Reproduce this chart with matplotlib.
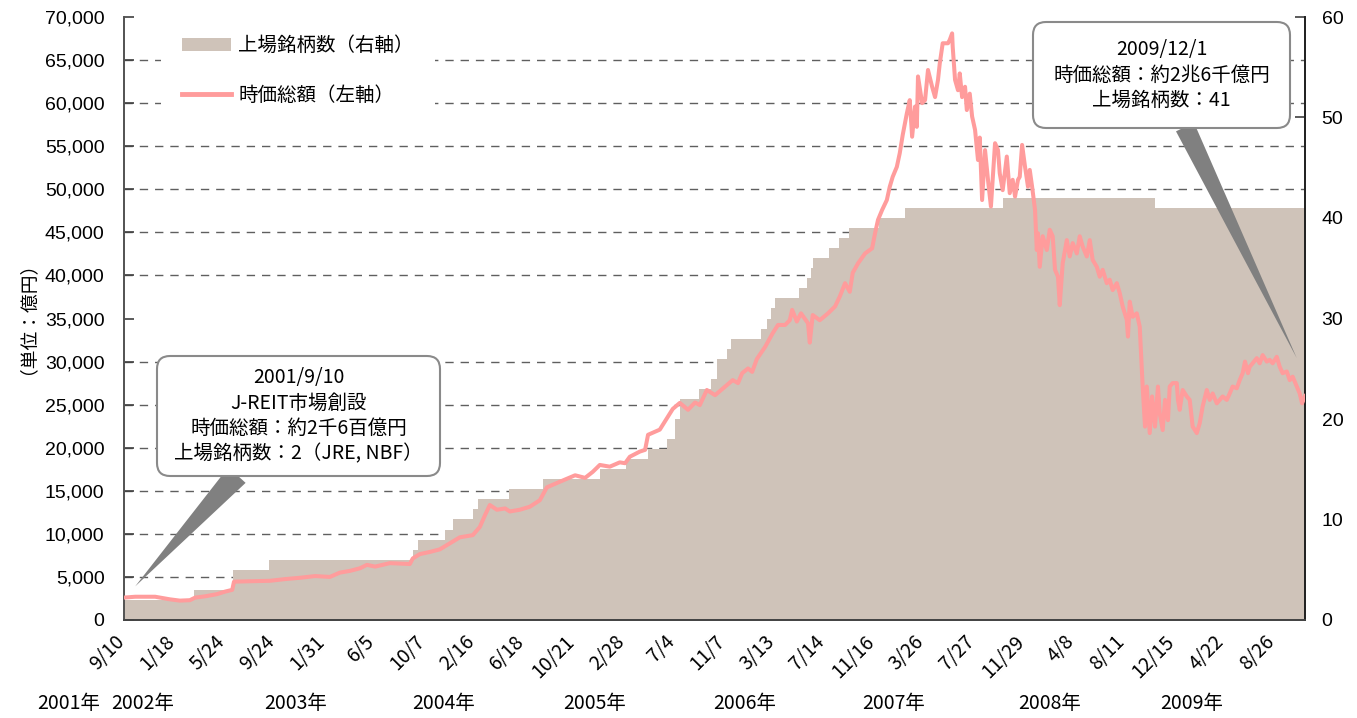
import numpy as np
import matplotlib.pyplot as plt
from matplotlib.patches import Patch, FancyBboxPatch
from matplotlib.lines import Line2D
from matplotlib.ticker import FuncFormatter, FixedLocator
from matplotlib.transforms import ScaledTranslation

plt.rcParams['font.family'] = ['Noto Sans CJK JP', 'DejaVu Sans']

# 営業日インデックス（2001/9/10 = 0）と時価総額（億円）
cap_day = [0, 19, 53, 66, 78, 95, 112, 121, 138, 158, 172, 184, 187, 214, 248, 274, 299, 325,
           350, 367, 384, 401, 413, 427, 452, 486, 491, 503, 520, 537, 554, 571, 593, 605, 614,
           622, 634, 648, 656, 673, 690, 707, 719, 741, 767, 784, 797, 809, 826, 843, 852, 860,
           877, 886, 891, 911, 923, 933, 945, 959, 971, 979, 991, 1005, 1022, 1035, 1044, 1051,
           1061, 1068, 1076, 1090, 1103, 1112, 1124, 1132, 1136, 1144, 1151, 1163, 1166, 1171,
           1183, 1197, 1209, 1217, 1226, 1234, 1239, 1248, 1260, 1272, 1277, 1282, 1289, 1297,
           1302, 1307, 1314, 1319, 1324, 1331, 1336, 1340, 1345, 1348, 1350, 1357, 1362, 1367,
           1374, 1379, 1384, 1387, 1392, 1401, 1404, 1408, 1409, 1413, 1418, 1421, 1425, 1430,
           1433, 1438, 1442, 1447, 1452, 1455, 1459, 1464, 1469, 1474, 1481, 1486, 1489, 1494,
           1501, 1506, 1511, 1515, 1520, 1523, 1527, 1532, 1537, 1540, 1544, 1549, 1552, 1554,
           1557, 1562, 1569, 1574, 1579, 1583, 1588, 1591, 1596, 1603, 1608, 1613, 1620, 1625,
           1630, 1637, 1642, 1647, 1654, 1659, 1664, 1671, 1676, 1681, 1688, 1693, 1698, 1705,
           1707, 1710, 1715, 1722, 1727, 1732, 1736, 1739, 1744, 1748, 1753, 1758, 1761, 1766,
           1770, 1775, 1778, 1783, 1790, 1792, 1795, 1800, 1807, 1812, 1817, 1824, 1829, 1834,
           1841, 1846, 1851, 1858, 1863, 1868, 1875, 1880, 1885, 1892, 1897, 1902, 1906, 1911,
           1914, 1919, 1926, 1931, 1936, 1943, 1948, 1953, 1960, 1965, 1970, 1977, 1982, 1987,
           1994, 1999, 2003, 2008]
cap_val = [2600, 2700, 2700, 2550, 2400, 2250, 2300, 2600, 2750, 3000, 3300, 3500, 4450, 4500,
           4550, 4750, 4900, 5100, 5000, 5500, 5700, 6000, 6400, 6200, 6600, 6500, 7150, 7650,
           7900, 8200, 8900, 9600, 9850, 10800, 12200, 13350, 12800, 12950, 12600, 12800, 13150,
           13900, 15400, 16050, 16800, 16500, 17200, 18000, 17800, 18300, 18200, 18950, 19550,
           19750, 21500, 22100, 23400, 24500, 25200, 24400, 25250, 24950, 26700, 26100, 27100,
           27850, 27500, 28650, 29200, 28800, 30300, 31700, 33300, 34250, 34250, 34800, 36000,
           34650, 35600, 34450, 32200, 35400, 34800, 35600, 36400, 37550, 39100, 38100, 40300,
           41400, 42550, 43150, 44900, 46450, 47600, 48750, 50300, 51450, 52600, 54200, 56300,
           58800, 60350, 56100, 59600, 57250, 63100, 60000, 60350, 63850, 61900, 60700, 62700,
           64600, 66950, 66950, 67350, 68100, 66550, 62700, 61500, 63450, 60700, 61900, 59200,
           61100, 58450, 56900, 53400, 56000, 48750, 54550, 51100, 48000, 55350, 54550, 51850,
           49900, 53800, 49550, 51100, 49150, 51100, 51450, 55150, 52600, 50300, 52250, 50300,
           47600, 42950, 44900, 41000, 44550, 42950, 45300, 44550, 40650, 39850, 36550, 41400,
           44100, 42200, 43750, 42550, 44550, 43350, 42200, 44100, 41800, 41000, 39850, 40650,
           39100, 39500, 38300, 39100, 37950, 36400, 34850, 32900, 36950, 35200, 35600, 34050,
           27100, 22450, 27100, 21700, 25950, 22450, 27100, 24000, 22050, 25550, 23200, 27100,
           27500, 27500, 25550, 24400, 26700, 25950, 25550, 22450, 21700, 22850, 24800, 26700,
           25550, 26300, 25150, 25550, 25950, 25550, 26300, 27100, 26900, 27850, 28650, 30000,
           28650, 29400, 29800, 30400, 29800, 30750, 30000, 30200, 29800, 30550, 29400, 28650,
           28850, 27850, 28250, 27100, 26300, 25150, 26000]

# 上場銘柄数：変化した営業日と銘柄数
cnt_day = [0, 119, 185, 247, 491, 500, 546, 559, 593, 602, 655, 712, 809, 853, 891, 923, 937,
           945, 978, 998, 1008, 1025, 1032, 1083, 1093, 1100, 1107, 1148, 1161, 1168, 1171, 1199,
           1216, 1233, 1284, 1328, 1494, 1753, 2008]
cnt_val = [2, 3, 5, 6, 7, 8, 9, 10, 11, 12, 13, 14, 15, 16, 17, 18, 20, 22, 23, 24, 26, 27, 28,
           29, 30, 31, 32, 33, 34, 35, 36, 37, 38, 39, 40, 41, 42, 41, 41]

tick_labels = ['9/10', '1/18', '5/24', '9/24', '1/31', '6/5', '10/7', '2/16', '6/18', '10/21',
               '2/28', '7/4', '11/7', '3/13', '7/14', '11/16', '3/26', '7/27', '11/29', '4/8',
               '8/11', '12/15', '4/22', '8/26']
tick_step = 85
last_day = 2008

year_labels = ['2001年', '2002年', '2003年', '2004年', '2005年', '2006年', '2007年', '2008年', '2009年']
year_x = [-94, 32, 291, 543, 801, 1056, 1309, 1573, 1816]

fill_color = '#cfc3b9'
line_color = '#ff9c9c'
grid_color = '#5f5f5f'
num_font = 'Liberation Sans'

fig = plt.figure(figsize=(13.57, 7.18), dpi=100)
ax_cnt = fig.add_axes([124 / 1357, 1 - 620 / 718, 1181 / 1357, 603 / 718])
ax_cap = ax_cnt.twinx()

# 右軸：上場銘柄数（階段状の面）
ax_cnt.fill_between(cnt_day, cnt_val, step='post', color=fill_color, lw=0, zorder=2)
ax_cnt.set_ylim(0, 60)
ax_cnt.set_xlim(0, last_day)
ax_cnt.set_yticks(range(0, 61, 10))
ax_cnt.yaxis.tick_right()
# 左軸の目盛りに合わせた破線グリッドは面の下に置く
ax_cnt.yaxis.set_minor_locator(FixedLocator(np.arange(5000, 70001, 5000) * 60 / 70000))
ax_cnt.grid(which='minor', axis='y', color=grid_color, linestyle=(0, (6, 5)), lw=1.0, zorder=1)
ax_cnt.set_axisbelow(True)
ax_cnt.tick_params(axis='y', which='minor', length=0)
ax_cnt.tick_params(axis='y', which='major', direction='in', length=7, width=1.2,
                   labelsize=14, pad=12, color='#404040')
for t in ax_cnt.get_yticklabels():
    t.set_fontfamily(num_font)

ax_cnt.set_xticks(np.arange(len(tick_labels)) * tick_step)
ax_cnt.set_xticklabels(tick_labels, rotation=45, ha='right', rotation_mode='anchor', fontsize=14)
ax_cnt.tick_params(axis='x', length=0, pad=8)
shift = ScaledTranslation(-0.10, 0, fig.dpi_scale_trans)
for t in ax_cnt.get_xticklabels():
    t.set_transform(t.get_transform() + shift)

for lbl, x in zip(year_labels, year_x):
    ax_cnt.text(x, -0.138, lbl, transform=ax_cnt.get_xaxis_transform(),
                ha='center', va='center', fontsize=14, clip_on=False)

# 左軸：時価総額（折れ線）
ax_cap.plot(cap_day, cap_val, color=line_color, lw=2.9, solid_joinstyle='round', zorder=3)
ax_cap.set_ylim(0, 70000)
ax_cap.set_yticks(range(0, 70001, 5000))
ax_cap.yaxis.set_major_formatter(FuncFormatter(lambda v, p: f'{int(v):,}'))
ax_cap.yaxis.tick_left()
ax_cap.tick_params(axis='y', direction='in', length=7, width=1.2, labelsize=14, pad=14,
                   color='#404040')
for t in ax_cap.get_yticklabels():
    t.set_fontfamily(num_font)

for a in (ax_cnt, ax_cap):
    a.spines['top'].set_visible(False)
    a.spines['left'].set_color('#555555')
    a.spines['left'].set_linewidth(1.3)
    a.spines['right'].set_color('#222222')
    a.spines['right'].set_linewidth(1.3)
    a.spines['bottom'].set_color('#444444')
    a.spines['bottom'].set_linewidth(1.3)

fig.text(0.013, 0.57, '（単位：億円）', rotation=90, ha='center', va='center', fontsize=13.5)

# 凡例
handles = [Patch(facecolor=fill_color, edgecolor='none'),
           Line2D([0], [0], color=line_color, lw=3.5)]
leg = ax_cap.legend(handles, ['上場銘柄数（右軸）', '時価総額（左軸）'], loc='upper left',
                    bbox_to_anchor=(0.031, 1.005), fontsize=14, frameon=True, fancybox=False,
                    framealpha=1, edgecolor='none', borderpad=1.1, borderaxespad=0,
                    handlelength=2.5, handletextpad=0.4, labelspacing=1.45)
leg.set_zorder(4)

# 吹き出し（枠はインチ座標で配置、くさびの先端はデータ座標）
inch = fig.dpi_scale_trans


def callout(text, box, base, tip, tail_width):
    x0, y0, x1, y1 = box
    ax_cap.annotate('', xy=tip, xycoords='data', xytext=base, textcoords=inch,
                    arrowprops=dict(arrowstyle=f'wedge,tail_width={tail_width}',
                                    fc='#808080', ec='none', shrinkA=0, shrinkB=0,
                                    mutation_scale=12),
                    zorder=5, annotation_clip=False)
    patch = FancyBboxPatch((x0, y0), x1 - x0, y1 - y0, boxstyle='round,pad=0,rounding_size=0.13',
                           transform=inch, fc='white', ec='#8a8a8a', lw=1.5, zorder=6)
    fig.add_artist(patch)
    fig.text((x0 + x1) / 2, (y0 + y1) / 2, text, transform=inch, ha='center', va='center',
             fontsize=14, linespacing=1.28, zorder=7)


callout('2001/9/10\nJ-REIT市場創設\n時価総額：約2千6百億円\n上場銘柄数：2（JRE, NBF）',
        (1.57, 2.42, 4.40, 3.62), (2.37, 2.43), (19, 3900), 1.4)
callout('2009/12/1\n時価総額：約2兆6千億円\n上場銘柄数：41',
        (10.33, 5.90, 12.90, 6.96), (11.85, 5.91), (1994, 30400), 1.2)

fig.savefig('out.png', dpi=100)
